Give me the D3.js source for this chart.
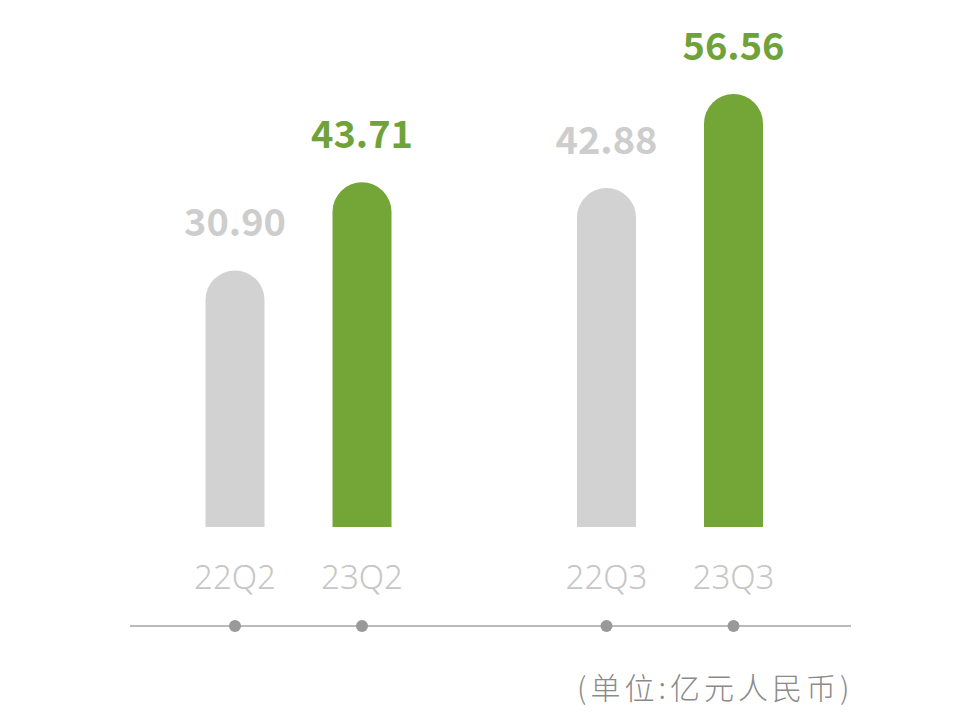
<!DOCTYPE html>
<html>
<head>
<meta charset="utf-8">
<script src="https://cdn.jsdelivr.net/npm/d3@7"></script>
<style>
  html, body { margin: 0; padding: 0; background: #fff; }
  svg { display: block; font-family: "Noto Sans CJK SC", "Noto Sans", sans-serif; }
</style>
</head>
<body>
<div id="chart"></div>
<script>
// quarters, years and revenue (亿元人民币)
const quarters = ['Q2', 'Q3'];
const years = ['22', '23'];
const values = [
  { q: 'Q2', y: '22', v: 30.90 },
  { q: 'Q2', y: '23', v: 43.71 },
  { q: 'Q3', y: '22', v: 42.88 },
  { q: 'Q3', y: '23', v: 56.56 }
];
const unitLabel = '(单位:亿元人民币)';

const width = 976, height = 714;
const base = 527, barW = 59;
const gray = '#d2d2d2', green = '#73a637';

const svg = d3.select('#chart').append('svg')
  .attr('width', width)
  .attr('height', height);

const xGroup = d3.scalePoint().domain(quarters).range([298.5, 670]);
const xInner = d3.scalePoint().domain(years).range([-63.5, 63.5]);
const x = d => xGroup(d.q) + xInner(d.y);

// value axis does not start at zero in the original artwork
const y = d3.scaleLinear().domain([-6.43, 56.56]).range([base, 94]);

const fill = d => d.y === '23' ? green : gray;
const labelFill = d => d.y === '23' ? '#6fa239' : '#cdcdcd';

// rounded-top bars
function barPath(d) {
  const x0 = x(d) - barW / 2, x1 = x(d) + barW / 2, r = barW / 2;
  const top = y(d.v);
  return `M${x0},${base}V${top + r}A${r},${r} 0 0 1 ${x1},${top + r}V${base}Z`;
}

svg.append('g')
  .selectAll('path')
  .data(values)
  .join('path')
  .attr('d', barPath)
  .attr('fill', fill);

// value labels
svg.append('g')
  .selectAll('text')
  .data(values)
  .join('text')
  .attr('x', d => x(d))
  .attr('y', d => y(d.v) - 34)
  .attr('text-anchor', 'middle')
  .attr('font-size', 38)
  .attr('font-weight', 700)
  .attr('fill', labelFill)
  .text(d => d.v.toFixed(2));

// category labels
svg.append('g')
  .selectAll('text')
  .data(values)
  .join('text')
  .attr('x', d => x(d))
  .attr('y', 589)
  .attr('text-anchor', 'middle')
  .attr('font-size', 33)
  .attr('font-weight', 300)
  .attr('fill', '#c6c6c6')
  .style('font-family', '"Noto Sans", sans-serif')
  .text(d => d.y + d.q);

// baseline with dots
svg.append('line')
  .attr('x1', 130).attr('x2', 851)
  .attr('y1', 626).attr('y2', 626)
  .attr('stroke', '#a4a4a4')
  .attr('stroke-width', 1.5);

svg.append('g')
  .selectAll('circle')
  .data(values)
  .join('circle')
  .attr('cx', d => x(d))
  .attr('cy', 626)
  .attr('r', 6)
  .attr('fill', '#999');

// unit note
svg.append('text')
  .attr('x', 577)
  .attr('y', 699)
  .attr('font-size', 30)
  .attr('font-weight', 300)
  .attr('letter-spacing', 4)
  .attr('fill', '#8a8a8a')
  .text(unitLabel);
</script>
</body>
</html>
